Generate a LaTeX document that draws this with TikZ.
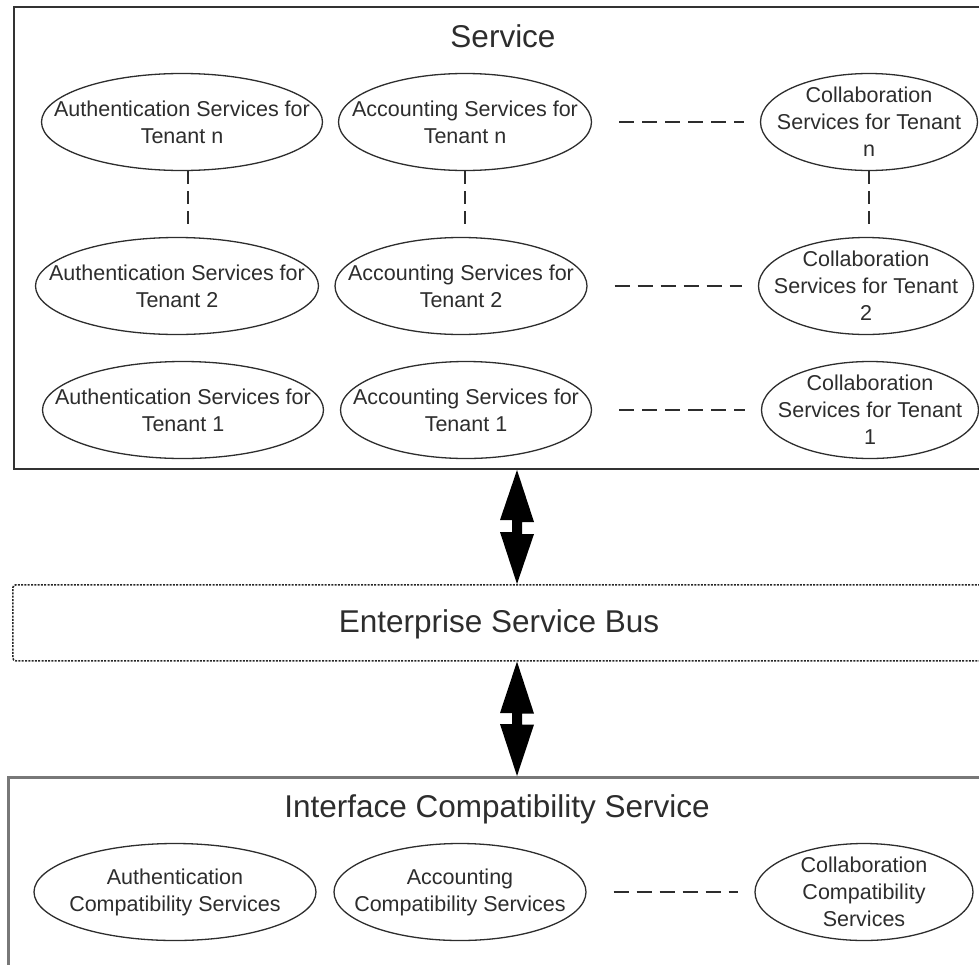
\documentclass[tikz,border=0pt]{standalone}
\usepackage{fontspec}
\setmainfont{Liberation Sans}
\usetikzlibrary{shapes.geometric,calc}
\definecolor{ink}{RGB}{45,45,45}
\definecolor{boxgray}{RGB}{120,120,120}
\begin{document}
\begin{tikzpicture}[x=1pt,y=-1pt,
  ell/.style={ellipse, draw=ink, line width=1.3pt, fill=white, minimum height=97pt,
    inner xsep=-60pt, inner ysep=-12pt, align=center,
    font=\fontsize{21.5}{27}\selectfont, text=ink},
  titletext/.style={font=\fontsize{31.5}{36}\selectfont, text=ink, anchor=base, inner sep=0pt},
  dashlink/.style={draw=ink, line width=1.8pt, dash pattern=on 15pt off 8pt},
  vdashlink/.style={draw=ink, line width=1.8pt, dash pattern=on 13pt off 7pt},
  hlink/.style={dashlink, shorten <=27pt, shorten >=16pt},
  blockfill/.style={fill=black}
]
\useasboundingbox (0,0) rectangle (979,964);
\clip (0,0) rectangle (979,964);

% containers
\node[draw=black!80, line width=2pt, anchor=north west, minimum width=1000pt,
      minimum height=462pt, inner sep=0pt] (svc) at (13,6) {};
\node[draw=black!85, line width=1.6pt, dash pattern=on 2pt off 1.3pt, rounded corners=3pt,
      anchor=north west, minimum width=1000pt, minimum height=76pt, inner sep=0pt] (esb) at (12,584) {};
\node[draw=boxgray, line width=3pt, anchor=north west, minimum width=1000pt,
      minimum height=250pt, inner sep=0pt] (ics) at (7,776) {};

% titles
\node[titletext] (svct) at (503,47) {Service};
\node[titletext] (esbt) at (499,632) {Enterprise Service Bus};
\node[titletext] (icst) at (497,817) {Interface Compatibility Service};

% row n
\node[ell, minimum width=281pt] (au3) at (182,122) {Authentication Services for\\Tenant n};
\node[ell, minimum width=253pt] (ac3) at (465,122) {Accounting Services for\\Tenant n};
\node[ell, minimum width=217pt] (co3) at (869,122) {Collaboration\\Services for Tenant\\n};
% row 2
\node[ell, minimum width=283pt] (au2) at (177,286) {Authentication Services for\\Tenant 2};
\node[ell, minimum width=252pt] (ac2) at (461,286) {Accounting Services for\\Tenant 2};
\node[ell, minimum width=215pt] (co2) at (866,286) {Collaboration\\Services for Tenant\\2};
% row 1
\node[ell, minimum width=281pt] (au1) at (183,410) {Authentication Services for\\Tenant 1};
\node[ell, minimum width=251pt] (ac1) at (466,410) {Accounting Services for\\Tenant 1};
\node[ell, minimum width=217pt] (co1) at (870,410) {Collaboration\\Services for Tenant\\1};
% compatibility row
\node[ell, minimum width=282pt] (auc) at (175,892) {Authentication\\Compatibility Services};
\node[ell, minimum width=252pt] (acc) at (460,892) {Accounting\\Compatibility Services};
\node[ell, minimum width=218pt] (coc) at (864,892) {Collaboration\\Compatibility\\Services};

% dashed links
\draw[hlink] (ac3.east) -- (co3.west);
\draw[hlink] (ac2.east) -- (co2.west);
\draw[hlink] (ac1.east) -- (co1.west);
\draw[hlink] (acc.east) -- (coc.west);
\draw[vdashlink, shorten >=9pt] ([xshift=6pt]au3.south) -- ([xshift=6pt]au3.south |- au2.north);
\draw[vdashlink, shorten >=9pt] (ac3.south) -- (ac3.south |- ac2.north);
\draw[vdashlink, shorten >=9pt] (co3.south) -- (co3.south |- co2.north);

% double block arrows
\coordinate (xr) at (517,0);
\coordinate (a1) at (svc.south -| xr);
\coordinate (a2) at (esb.north -| xr);
\coordinate (b1) at (esb.south -| xr);
\coordinate (b2) at (ics.north -| xr);
\fill[blockfill] (a1) -- ++(17,52) -- ++(-12,0) -- ++(0,12) -- ++(12,0) -- (a2)
  -- ++(-17,-52) -- ++(12,0) -- ++(0,-12) -- ++(-12,0) -- cycle;
\fill[blockfill] (b1) -- ++(17,52) -- ++(-12,0) -- ++(0,11) -- ++(12,0) -- (b2)
  -- ++(-17,-52) -- ++(12,0) -- ++(0,-11) -- ++(-12,0) -- cycle;
\end{tikzpicture}
\end{document}
